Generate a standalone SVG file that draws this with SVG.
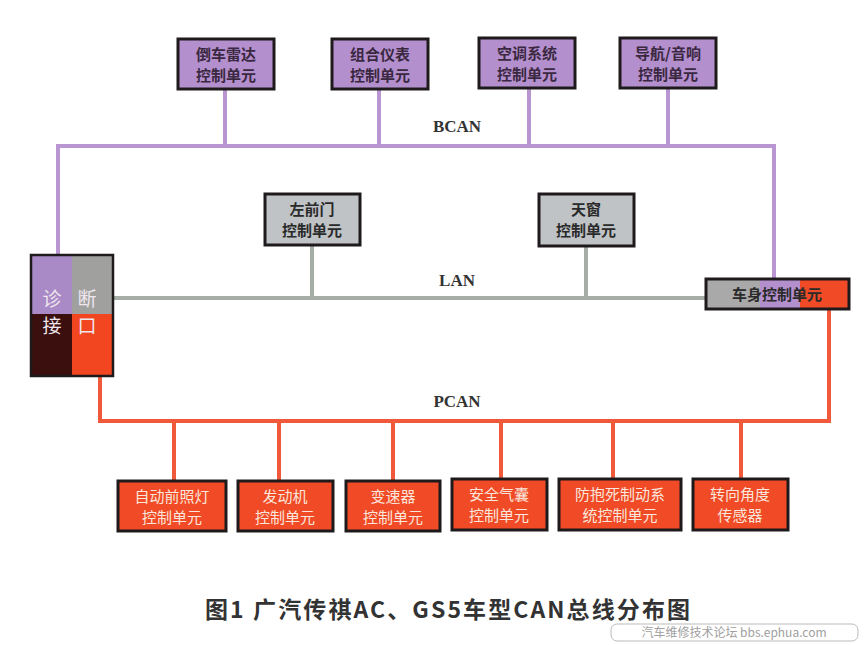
<svg xmlns="http://www.w3.org/2000/svg" width="864" height="645" viewBox="0 0 864 645">
<style>
.box{stroke:#1e1a1c;stroke-width:3}
.p{fill:#b48fce}
.g{fill:#bfc3c6}
.r{fill:#f04a26}
.t{font-family:"Noto Sans CJK SC","Noto Sans",sans-serif;font-size:15px;text-anchor:middle}
.tp{fill:#3a2840;font-weight:bold}
.tg{fill:#2a2a2a;font-weight:bold}
.tr{fill:#fbe6dc}
.bus{font-family:"Liberation Serif",serif;font-weight:bold;font-size:17px;fill:#333;text-anchor:middle}
.lb{stroke:#b995d2;stroke-width:4;fill:none}
.lg{stroke:#a6aca6;stroke-width:4;fill:none}
.lr{stroke:#f05a3a;stroke-width:4;fill:none}
</style>
<rect width="864" height="645" fill="#ffffff"/>
<g id="connectors">
<path class="lb" d="M58 255 V146 H774 V279"/>
<path class="lb" d="M225 89 V146 M379 89 V146 M529 88 V146 M668 88 V146"/>
<path class="lg" d="M113 298 H706 M312 245 V298 M586 246 V298"/>
<path class="lr" d="M100 376 V421 H829 V309"/>
<path class="lr" d="M174 421 V481 M279 421 V481 M393 421 V481 M501 421 V479 M613 421 V479 M741 421 V479"/>
</g>
<text class="bus" x="457" y="132">BCAN</text>
<text class="bus" x="457" y="286">LAN</text>
<text class="bus" x="457" y="407">PCAN</text>
<g id="n-reverse-radar">
<rect class="box p" x="178" y="39" width="96" height="50"/>
<text class="t tp" x="226" y="60">倒车雷达</text>
<text class="t tp" x="226" y="81">控制单元</text>
</g>
<g id="n-cluster">
<rect class="box p" x="332" y="39" width="96" height="50"/>
<text class="t tp" x="380" y="60">组合仪表</text>
<text class="t tp" x="380" y="81">控制单元</text>
</g>
<g id="n-ac">
<rect class="box p" x="479" y="38" width="96" height="50"/>
<text class="t tp" x="527" y="59">空调系统</text>
<text class="t tp" x="527" y="80">控制单元</text>
</g>
<g id="n-nav">
<rect class="box p" x="620" y="38" width="96" height="50"/>
<text class="t tp" x="668" y="59">导航/音响</text>
<text class="t tp" x="668" y="80">控制单元</text>
</g>
<g id="n-left-door">
<rect class="box g" x="265" y="194" width="95" height="51"/>
<text class="t tg" x="312" y="215">左前门</text>
<text class="t tg" x="312" y="236">控制单元</text>
</g>
<g id="n-sunroof">
<rect class="box g" x="539" y="194" width="95" height="52"/>
<text class="t tg" x="586" y="215">天窗</text>
<text class="t tg" x="586" y="236">控制单元</text>
</g>
<g id="n-bcm">
<rect x="706" y="279" width="54" height="30" fill="#a9a9a9"/>
<rect x="760" y="279" width="40" height="30" fill="#b48fce"/>
<rect x="800" y="279" width="49" height="30" fill="#f04a26"/>
<rect x="706" y="279" width="143" height="30" fill="none" stroke="#1e1a1c" stroke-width="3"/>
<text class="t tg" x="777" y="300">车身控制单元</text>
</g>
<g id="n-diag">
<rect x="31" y="255" width="41" height="59" fill="#a98ac6"/>
<rect x="72" y="255" width="41" height="59" fill="#a0a19e"/>
<rect x="31" y="314" width="41" height="62" fill="#3a0f0e"/>
<rect x="72" y="314" width="41" height="62" fill="#f1461f"/>
<rect x="31" y="255" width="82" height="121" fill="none" stroke="#1e1a1c" stroke-width="2.5"/>
<g font-family="'Noto Sans CJK SC',sans-serif" font-size="19" fill="#efe6ef" text-anchor="middle">
<text x="52" y="306">诊</text>
<text x="87" y="306">断</text>
<text x="52" y="333">接</text>
<text x="87" y="333">口</text>
</g>
</g>
<g id="n-afs">
<rect class="box r" x="118" y="481" width="108" height="50"/>
<text class="t tr" x="172" y="502">自动前照灯</text>
<text class="t tr" x="172" y="523">控制单元</text>
</g>
<g id="n-engine">
<rect class="box r" x="238" y="481" width="95" height="50"/>
<text class="t tr" x="285" y="502">发动机</text>
<text class="t tr" x="285" y="523">控制单元</text>
</g>
<g id="n-trans">
<rect class="box r" x="346" y="481" width="94" height="50"/>
<text class="t tr" x="393" y="502">变速器</text>
<text class="t tr" x="393" y="523">控制单元</text>
</g>
<g id="n-airbag">
<rect class="box r" x="452" y="479" width="95" height="51"/>
<text class="t tr" x="499" y="500">安全气囊</text>
<text class="t tr" x="499" y="521">控制单元</text>
</g>
<g id="n-abs">
<rect class="box r" x="559" y="479" width="122" height="51"/>
<text class="t tr" x="620" y="500">防抱死制动系</text>
<text class="t tr" x="620" y="521">统控制单元</text>
</g>
<g id="n-steer">
<rect class="box r" x="693" y="479" width="95" height="51"/>
<text class="t tr" x="740" y="500">转向角度</text>
<text class="t tr" x="740" y="521">传感器</text>
</g>
<text x="205" y="618" textLength="485" lengthAdjust="spacing" font-family="'Noto Sans CJK SC',sans-serif" font-size="23" font-weight="bold" fill="#333">图1 广汽传祺AC、GS5车型CAN总线分布图</text>
<g id="watermark">
<rect x="611" y="624" width="247" height="17" rx="6" fill="none" stroke="#bbb" stroke-width="1"/>
<text x="734" y="637" font-family="'Noto Sans CJK SC',sans-serif" font-size="12" fill="#a0a0a0" text-anchor="middle">汽车维修技术论坛 bbs.ephua.com</text>
</g>
</svg>
